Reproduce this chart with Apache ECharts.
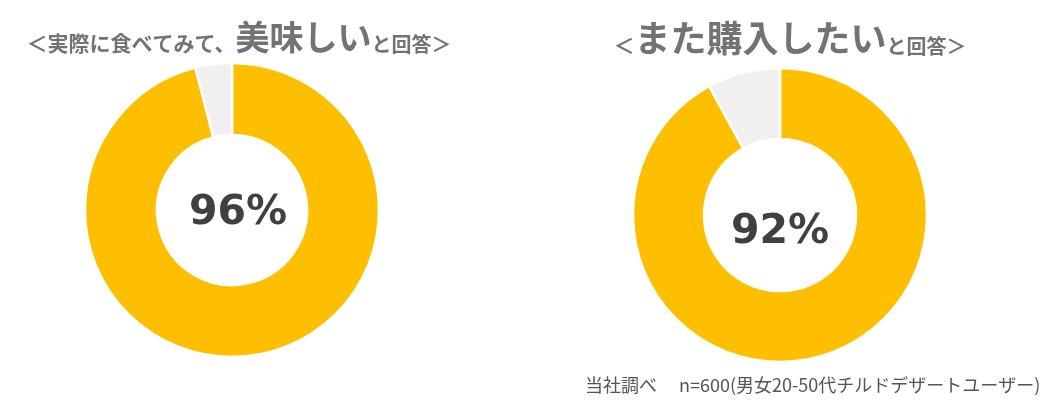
<!DOCTYPE html>
<html><head><meta charset="utf-8">
<script src="https://cdn.jsdelivr.net/npm/echarts@6/dist/echarts.min.js"></script>
<style>html,body{margin:0;padding:0;background:#fff}#c{width:1056px;height:407px}</style>
</head><body><div id="c"></div>
<script>
const categories = ['はい', 'その他'];
const tasteValues = [96, 4];
const rebuyValues = [92, 8];
const footnote = '当社調べ　 n=600(男女20-50代チルドデザートユーザー)';

const YELLOW = '#FDBF00', GREY = '#F0F0F0';
const FONT = '"Noto Sans CJK JP", "Noto Sans", sans-serif';
const titleGrey = '#737373';

function mkData(vals) {
  return categories.map((n, i) => ({
    name: n, value: vals[i],
    itemStyle: { color: i === 0 ? YELLOW : GREY },
    label: { show: i === 0 }
  }));
}
function mkSeries(vals, center, r, off) {
  return {
    type: 'pie', center: center, radius: r, startAngle: 90, clockwise: true,
    silent: true, animation: false,
    itemStyle: { borderColor: '#fff', borderWidth: 2.5 },
    label: {
      position: 'center', formatter: '{c}%',
      fontFamily: '"DejaVu Sans", sans-serif', fontWeight: 'bold', fontSize: 41,
      color: '#404040', offset: off
    },
    labelLine: { show: false },
    emphasis: { disabled: true },
    data: mkData(vals)
  };
}
const sm = { fontFamily: FONT, fontWeight: 'bold', fontSize: 21, color: titleGrey, verticalAlign: 'bottom', lineHeight: 42 };
const option = {
  backgroundColor: '#fff',
  title: [
    {
      left: 234, top: 7, textAlign: 'center',
      text: '{s|＜実際に食べてみて、}{l|美味しい}{t|と回答＞}',
      textStyle: { rich: {
        s: Object.assign({}, sm, { fontSize: 21 }),
        l: Object.assign({}, sm, { fontSize: 34 }),
        t: Object.assign({}, sm, { fontSize: 20 })
      } }
    },
    {
      left: 785, top: 9, textAlign: 'center',
      text: '{s|＜}{l|また購入したい}{t|と回答＞}',
      textStyle: { rich: {
        s: Object.assign({}, sm, { fontSize: 21 }),
        l: Object.assign({}, sm, { fontSize: 36 }),
        t: Object.assign({}, sm, { fontSize: 20 })
      } }
    },
    {
      left: 580, top: 371, text: footnote,
      textStyle: { fontFamily: FONT, fontWeight: 'normal', fontSize: 18, color: '#555' }
    }
  ],
  series: [
    mkSeries(tasteValues, [232, 210], [75, 147], [6, 3]),
    mkSeries(rebuyValues, [780, 215], [76, 147], [0, 17])
  ]
};
const chart = echarts.init(document.getElementById('c'), null, { renderer: 'canvas' });
chart.setOption(option);
</script></body></html>
